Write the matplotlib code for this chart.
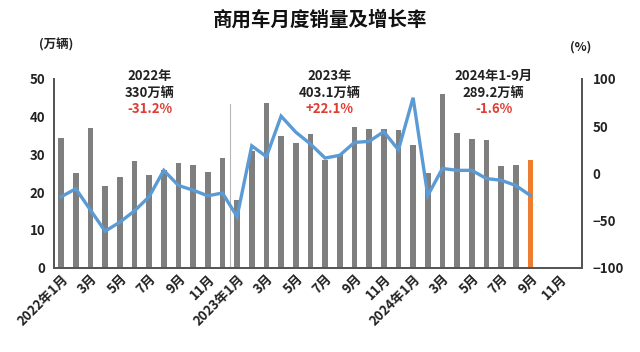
import matplotlib
matplotlib.use("Agg")
import matplotlib.pyplot as plt
import numpy as np

plt.rcParams['font.family'] = ['Noto Sans CJK SC', 'DejaVu Sans']

# Data
months = ['2022年1月', '2月', '3月', '4月', '5月', '6月', '7月', '8月', '9月', '10月', '11月', '12月',
          '2023年1月', '2月', '3月', '4月', '5月', '6月', '7月', '8月', '9月', '10月', '11月', '12月',
          '2024年1月', '2月', '3月', '4月', '5月', '6月', '7月', '8月', '9月', '10月', '11月', '12月']
sales = [34.4, 25.0, 37.1, 21.7, 24.0, 28.2, 24.6, 25.8, 27.8, 27.3, 25.2, 29.1,
         17.8, 31.0, 43.7, 34.8, 33.1, 35.5, 28.6, 30.0, 37.2, 36.6, 36.6, 36.5,
         32.5, 25.0, 46.0, 35.7, 34.1, 33.7, 26.8, 27.1, 28.4]
growth = [-25, -16.5, -39, -61.5, -52, -40, -25, 3, -13, -18, -24, -21,
          -46, 29, 17.5, 60.5, 43.5, 31, 16, 19, 32.6, 33.7, 44, 24.7,
          80, -23.7, 5, 3, 3, -5.7, -7.5, -13, -23.7]
left_ticks = [0, 10, 20, 30, 40, 50]
right_ticks = [-100, -50, 0, 50, 100]
annotations = [
    ('2022年', '330万辆', '-31.2%'),
    ('2023年', '403.1万辆', '+22.1%'),
    ('2024年1-9月', '289.2万辆', '-1.6%'),
]

fig = plt.figure(figsize=(6.4, 3.52), dpi=100)
ax = fig.add_axes([0.084, 0.24, 0.825, 0.536])
ax2 = ax.twinx()

x = np.arange(len(sales))
colors = ['#7f7f7f'] * (len(sales) - 1) + ['#ED7D31']
ax.bar(x, sales, width=0.38, color=colors, zorder=2)
ax2.plot(x, growth, color='#5B9BD5', lw=2.4, zorder=3, solid_joinstyle='miter')

ax.set_xlim(-0.5, 35.5)
ax.set_ylim(0, 50)
ax2.set_ylim(-100, 100)
ax.set_yticks(left_ticks)
ax2.set_yticks(right_ticks)

tick_pos = list(range(0, 35, 2))
ax.set_xticks(tick_pos)
ax.set_xticklabels([months[i] for i in tick_pos], rotation=45, ha='right',
                   rotation_mode='anchor', fontsize=9.5, fontweight='bold')
for lbl in ax.get_yticklabels():
    lbl.set_fontweight('bold'); lbl.set_fontsize(9.5)
for lbl in ax2.get_yticklabels():
    lbl.set_fontweight('bold'); lbl.set_fontsize(9.5)
ax.tick_params(axis='both', length=0, pad=6, colors='#222222')
ax2.tick_params(axis='y', length=0, pad=8, colors='#222222')
ax.tick_params(axis='x', pad=3)

for a in (ax, ax2):
    a.spines['top'].set_visible(False)
    for s in ('left', 'right', 'bottom'):
        a.spines[s].set_color('#555555')
        a.spines[s].set_linewidth(1.3)
ax.set_facecolor('none')
ax2.set_zorder(ax.get_zorder() + 1)
ax2.patch.set_visible(False)

ax.axvline(11.5, ymin=0, ymax=0.866, color='#b8b8b8', lw=0.8, zorder=1)

centers = [6.05, 18.3, 29.5]
for cx, (t1, t2, t3) in zip(centers, annotations):
    ax.text(cx, 50.8, t1, ha='center', va='center', fontsize=9.5, fontweight='bold',
            color='#222222', clip_on=False, zorder=5)
    ax.text(cx, 46.4, t2, ha='center', va='center', fontsize=9.5, fontweight='bold',
            color='#222222', clip_on=False, zorder=5)
    ax.text(cx, 42.0, t3, ha='center', va='center', fontsize=9.5, fontweight='bold',
            color='#E03C31', clip_on=False, zorder=5)

fig.text(0.5, 0.943, '商用车月度销量及增长率', ha='center', va='center',
         fontsize=14, fontweight='bold', color='#111111')
fig.text(0.088, 0.872, '(万辆)', ha='center', va='center', fontsize=9,
         fontweight='bold', color='#222222')
fig.text(0.908, 0.866, '(%)', ha='center', va='center', fontsize=9,
         fontweight='bold', color='#222222')

fig.savefig('out.png', dpi=100)
